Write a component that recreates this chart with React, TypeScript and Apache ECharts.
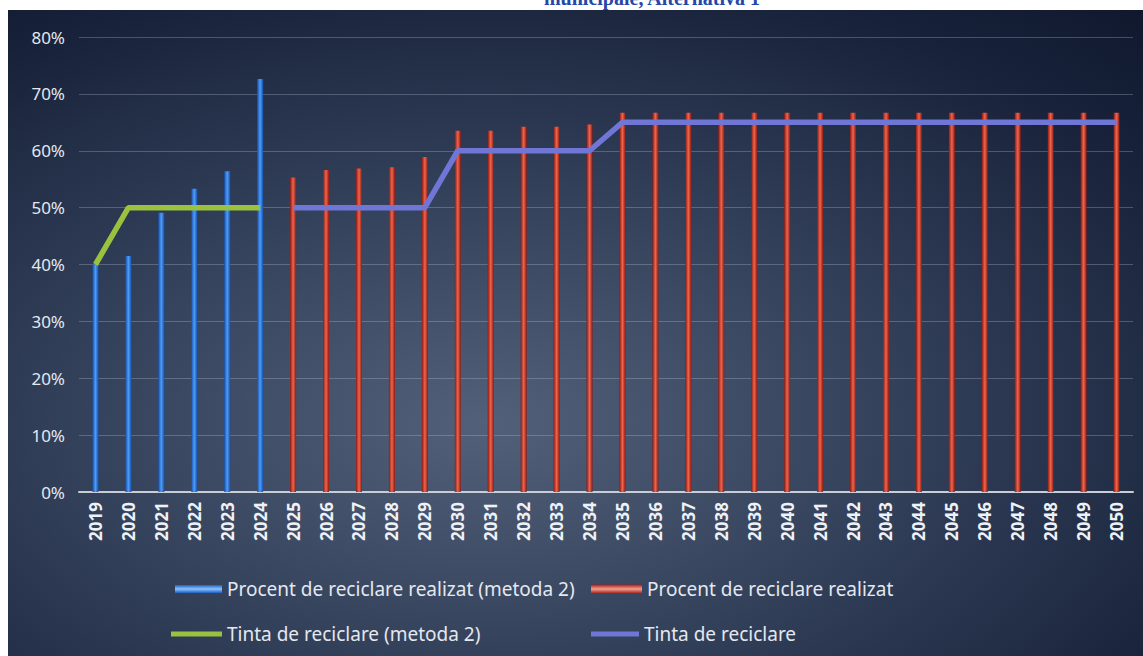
import React, { useEffect, useRef } from "react";
import * as echarts from "echarts";

const years = [
  "2019", "2020", "2021", "2022", "2023", "2024", "2025", "2026", "2027", "2028", "2029",
  "2030", "2031", "2032", "2033", "2034", "2035", "2036", "2037", "2038", "2039", "2040",
  "2041", "2042", "2043", "2044", "2045", "2046", "2047", "2048", "2049", "2050",
];

// Procent de reciclare realizat (metoda 2): 2019-2024
const blueValues = [40, 41.5, 49.1, 53.3, 56.4, 72.6];
// Procent de reciclare realizat: 2025-2050
const redValues = [
  55.3, 56.6, 56.9, 57.1, 58.9, 63.5, 63.5, 64.2, 64.2, 64.6,
  66.7, 66.7, 66.7, 66.7, 66.7, 66.7, 66.7, 66.7, 66.7, 66.7, 66.7, 66.7, 66.7, 66.7, 66.7, 66.7,
];
// Tinta de reciclare (metoda 2): 2019-2024
const greenTarget = [40, 50, 50, 50, 50, 50];
// Tinta de reciclare: 2025-2050
const purpleTarget = [
  50, 50, 50, 50, 50, 60, 60, 60, 60, 60,
  65, 65, 65, 65, 65, 65, 65, 65, 65, 65, 65, 65, 65, 65, 65, 65,
];
const yTicks = [0, 10, 20, 30, 40, 50, 60, 70, 80];

const nameBlue = "Procent de reciclare realizat (metoda 2)";
const nameRed = "Procent de reciclare realizat";
const nameGreen = "Tinta de reciclare (metoda 2)";
const namePurple = "Tinta de reciclare";

const pad = (arr: number[], before: number, total: number) => {
  const out: (number | null)[] = [];
  for (let i = 0; i < before; i++) out.push(null);
  arr.forEach((v) => out.push(v));
  while (out.length < total) out.push(null);
  return out;
};

export default function App() {
  const ref = useRef<HTMLDivElement>(null);
  useEffect(() => {
    document.body.style.margin = "0";
    if (!ref.current) return;
    const chart = echarts.init(ref.current, null, { renderer: "svg" });
    const n = years.length;
    const blueGrad = new echarts.graphic.LinearGradient(0, 0, 1, 0, [
      { offset: 0, color: "#1450b0" },
      { offset: 0.5, color: "#4f9cf5" },
      { offset: 1, color: "#1450b0" },
    ]);
    const redGrad = new echarts.graphic.LinearGradient(0, 0, 1, 0, [
      { offset: 0, color: "#8a1a14" },
      { offset: 0.5, color: "#f0654c" },
      { offset: 1, color: "#8a1a14" },
    ]);
    const blueIcon = new echarts.graphic.LinearGradient(0, 0, 0, 1, [
      { offset: 0, color: "#1e5fc4" },
      { offset: 0.5, color: "#8cc4ff" },
      { offset: 1, color: "#1e5fc4" },
    ]);
    const redIcon = new echarts.graphic.LinearGradient(0, 0, 0, 1, [
      { offset: 0, color: "#a0201a" },
      { offset: 0.5, color: "#f4a090" },
      { offset: 1, color: "#a0201a" },
    ]);
    const legendText = {
      color: "#e4e8ef",
      fontSize: 19,
      fontFamily: "Noto Sans",
      lineHeight: 24,
    };
    chart.setOption({
      animation: false,
      backgroundColor: "#ffffff",
      graphic: [
        {
          type: "rect",
          z: -100,
          silent: true,
          shape: { x: 8, y: 10, width: 1135, height: 646 },
          style: {
            fill: {
              type: "radial",
              x: 0.42,
              y: 0.64,
              r: 0.95,
              colorStops: [
                { offset: 0, color: "#52607a" },
                { offset: 0.4, color: "#323f59" },
                { offset: 0.75, color: "#172139" },
                { offset: 1, color: "#0b1326" },
              ],
            },
          },
        },
        {
          type: "text",
          z: -90,
          x: 652,
          y: -12,
          style: {
            text: "municipale, Alternativa 1",
            fill: "#2646a8",
            fontSize: 20,
            fontWeight: "bold",
            fontFamily: "Liberation Serif",
            textAlign: "center",
            textVerticalAlign: "top",
          },
        },
      ],
      grid: { left: 79, right: 10, top: 37, bottom: 164, containLabel: false },
      legend: [
        {
          data: [{ name: nameBlue, itemStyle: { color: blueIcon } }],
          left: 170,
          top: 572,
          itemWidth: 47,
          itemHeight: 8,
          icon: "rect",
          textStyle: legendText,
        },
        {
          data: [{ name: nameRed, itemStyle: { color: redIcon } }],
          left: 586,
          top: 572,
          itemWidth: 51,
          itemHeight: 9,
          icon: "rect",
          textStyle: legendText,
        },
        {
          data: [{ name: nameGreen }],
          left: 166,
          top: 617,
          itemWidth: 51,
          itemHeight: 5,
          icon: "rect",
          textStyle: legendText,
        },
        {
          data: [{ name: namePurple }],
          left: 586,
          top: 617,
          itemWidth: 48,
          itemHeight: 5,
          icon: "rect",
          textStyle: legendText,
        },
      ],
      xAxis: {
        type: "category",
        data: years,
        boundaryGap: true,
        axisLine: { show: true, lineStyle: { color: "#c8cdd6", width: 2 } },
        axisTick: { show: false },
        axisLabel: {
          rotate: 90,
          color: "#eef1f6",
          fontSize: 17,
          fontWeight: "bold",
          fontFamily: "Noto Sans",
          margin: 10,
          interval: 0,
        },
      },
      yAxis: {
        type: "value",
        min: yTicks[0],
        max: yTicks[yTicks.length - 1],
        interval: 10,
        axisLine: { show: false },
        axisTick: { show: false },
        axisLabel: {
          formatter: "{value}%",
          color: "#e4e8ef",
          fontSize: 17,
          fontFamily: "Noto Sans",
          margin: 14,
        },
        splitLine: { lineStyle: { color: "rgba(190,198,212,0.3)", width: 1 } },
      },
      series: [
        {
          name: nameBlue,
          type: "bar",
          data: pad(blueValues, 0, n),
          barWidth: 6,
          barGap: "-100%",
          itemStyle: { color: blueGrad },
          z: 2,
        },
        {
          name: nameRed,
          type: "bar",
          data: pad(redValues, 6, n),
          barWidth: 6,
          barGap: "-100%",
          itemStyle: { color: redGrad },
          z: 2,
        },
        {
          name: nameGreen,
          type: "line",
          data: pad(greenTarget, 0, n),
          showSymbol: false,
          symbol: "none",
          lineStyle: { color: "#9bc23f", width: 5.5 },
          itemStyle: { color: "#9bc23f" },
          z: 5,
        },
        {
          name: namePurple,
          type: "line",
          data: pad(purpleTarget, 6, n),
          showSymbol: false,
          symbol: "none",
          lineStyle: { color: "#6f76d6", width: 5.5 },
          itemStyle: { color: "#6f76d6" },
          z: 5,
        },
      ],
    });
    return () => chart.dispose();
  }, []);
  return <div ref={ref} style={{ width: 1143, height: 656 }} />;
}
